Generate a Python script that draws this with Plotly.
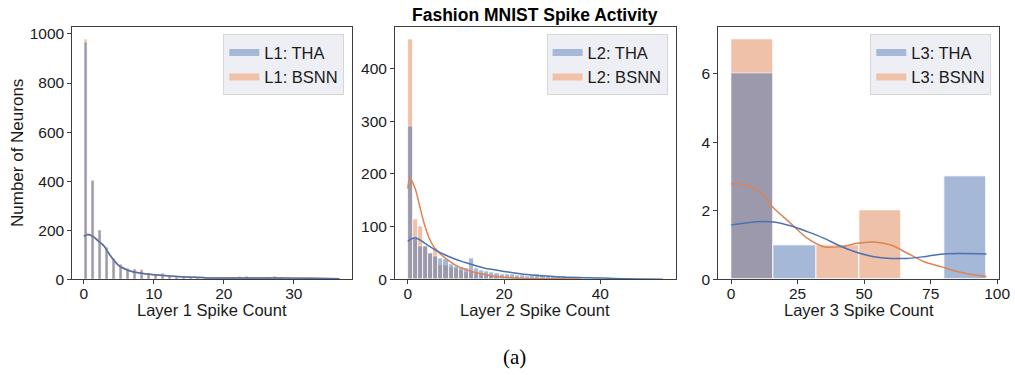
import plotly.graph_objects as go

# ---------------- data ----------------
# Layer 1 histogram (counts per spike-count bin, bins start at integer spike counts)
l1_bins = list(range(0, 37))
l1_tha = [966, 402, 198, 131, 80, 60, 41, 40, 36, 25, 20, 25, 12, 8, 8, 8, 10, 6, 8, 5,
          7, 8, 10, 12, 10, 7, 10, 13, 8, 10, 6, 4, 3, 4, 2, 3, 1]
l1_bsnn = [978, 400, 200, 128, 85, 58, 45, 40, 40, 22, 18, 20, 10, 7, 12, 8, 10, 6, 6, 5,
           6, 8, 14, 10, 8, 6, 8, 10, 10, 9, 5, 3, 2, 3, 1, 2, 1]
l1_kde_x = [0, 0.35, 0.7, 1.2, 1.8, 2.4, 2.9, 3.4, 3.9, 4.4, 4.9, 5.5, 6.2, 7, 8, 9, 10,
            12, 14, 17, 20, 24, 28, 32, 36.5]
l1_kde_tha = [175, 180, 181, 176, 163, 148, 135, 113, 92, 74, 58, 47, 38, 31, 26, 22, 19,
              14, 10, 7, 5, 5, 5, 4, 2]
l1_kde_bsnn = [177, 182, 184, 178, 164, 149, 135, 113, 92, 75, 59, 48, 39, 31, 26, 22, 19,
               14, 10, 7, 5, 5, 5, 4, 2]

# Layer 2 histogram
l2_bins = [i * 1.06 for i in range(38)]
l2_tha = [290, 77, 62, 62, 49, 44, 40, 37, 29, 24, 23, 20, 40, 21, 18, 15, 14, 12, 10, 9,
          9, 8, 7, 6, 8, 10, 7, 6, 6, 5, 5, 3, 2, 2, 1, 1, 1, 1]
l2_bsnn = [455, 114, 101, 62, 49, 59, 27, 27, 22, 20, 17, 14, 16, 12, 10, 9, 8, 6, 5, 4,
           3, 3, 2, 2, 1, 1, 1, 1, 0, 0, 0, 0, 0, 0, 0, 0, 0, 0]
l2_kde_x_tha = [0, 1.5, 3.6, 5.7, 7.8, 9.9, 11.9, 14, 16, 18, 20, 24, 31, 38, 45, 53]
l2_kde_tha = [72, 79, 68, 56, 46, 38, 32, 26, 21, 18, 15, 9.5, 5, 3, 1, 0.3]
l2_kde_x_bsnn = [0, 0.5, 1.5, 2.5, 3.6, 4.6, 5.7, 7.8, 9.9, 11.9, 14, 16, 18, 20, 22, 25, 30, 36]
l2_kde_bsnn = [172, 191, 173, 138, 100, 75, 58, 40, 27, 19, 13, 9.5, 6, 4, 2.5, 1.5, 1, 0.5]

# Layer 3 histogram
l3_bins = [0, 16, 32, 48, 64, 80]
l3_tha = [6, 1, 0, 0, 0, 3]
l3_bsnn = [7, 0, 1, 2, 0, 0]
l3_kde_x = [0, 3.4, 9.7, 16, 22.3, 28.6, 34.8, 41, 47.4, 53.7, 60, 66.3, 72.6, 78.9, 85.2, 96]
l3_kde_tha = [1.58, 1.62, 1.68, 1.67, 1.56, 1.39, 1.20, 0.97, 0.78, 0.66, 0.61, 0.61, 0.66,
              0.73, 0.75, 0.74]
l3_kde_bsnn = [2.78, 2.79, 2.61, 2.08, 1.64, 1.20, 0.95, 0.95, 1.05, 1.09, 1.00, 0.76, 0.51,
               0.37, 0.22, 0.08]

# ---------------- style ----------------
BLUE = "#4c72b0"
ORANGE = "#dd8452"
BLUE_PATCH = "#a5b8d7"
ORANGE_PATCH = "#eec1a8"
FONT = "Liberation Sans, Arial, sans-serif"
W, H = 1015, 375

panels = [
    dict(bins=l1_bins, width=0.46, tha=l1_tha, bsnn=l1_bsnn, kx_t=l1_kde_x, kt=l1_kde_tha,
         kx_b=l1_kde_x, kb=l1_kde_bsnn, lab="L1", edge=0.5),
    dict(bins=l2_bins, width=1.06, tha=l2_tha, bsnn=l2_bsnn, kx_t=l2_kde_x_tha, kt=l2_kde_tha,
         kx_b=l2_kde_x_bsnn, kb=l2_kde_bsnn, lab="L2", edge=0.8),
    dict(bins=l3_bins, width=16, tha=l3_tha, bsnn=l3_bsnn, kx_t=l3_kde_x, kt=l3_kde_tha,
         kx_b=l3_kde_x, kb=l3_kde_bsnn, lab="L3", edge=1.0),
]

fig = go.Figure()
for i, p in enumerate(panels):
    xa = "x" if i == 0 else f"x{i+1}"
    ya = "y" if i == 0 else f"y{i+1}"
    lg = "legend" if i == 0 else f"legend{i+1}"
    fig.add_trace(go.Bar(x=p["bins"], y=p["bsnn"], width=p["width"], offset=0,
                         marker=dict(color=ORANGE, line=dict(color="white", width=p["edge"])),
                         opacity=0.5, xaxis=xa, yaxis=ya, showlegend=False))
    fig.add_trace(go.Bar(x=p["bins"], y=p["tha"], width=p["width"], offset=0,
                         marker=dict(color=BLUE, line=dict(color="white", width=p["edge"])),
                         opacity=0.5, xaxis=xa, yaxis=ya, showlegend=False))
    fig.add_trace(go.Scatter(x=p["kx_b"], y=p["kb"], mode="lines",
                             line=dict(color=ORANGE, width=1.5, shape="spline"),
                             xaxis=xa, yaxis=ya, showlegend=False))
    fig.add_trace(go.Scatter(x=p["kx_t"], y=p["kt"], mode="lines",
                             line=dict(color=BLUE, width=1.5, shape="spline"),
                             xaxis=xa, yaxis=ya, showlegend=False))
    # legend entries
    fig.add_trace(go.Scatter(x=[None], y=[None], mode="lines", name=f"{p['lab']}: THA",
                             line=dict(color=BLUE_PATCH, width=7), xaxis=xa, yaxis=ya,
                             legend=lg))
    fig.add_trace(go.Scatter(x=[None], y=[None], mode="lines", name=f"{p['lab']}: BSNN",
                             line=dict(color=ORANGE_PATCH, width=7), xaxis=xa, yaxis=ya,
                             legend=lg))

# axes geometry (pixels)
xdom = [(72.3, 352.3), (395.0, 675.6), (718.3, 999.3)]
ytop, ybot = 27.3, 279.3
xranges = [[-1.65, 38.35], [-2.65, 55.65], [-4.8, 100.8]]
yranges = [[0, 1027], [0, 478], [0, 7.35]]
xticks = [[0, 10, 20, 30], [0, 20, 40], [0, 25, 50, 75, 100]]
yticks = [[0, 200, 400, 600, 800, 1000], [0, 100, 200, 300, 400], [0, 2, 4, 6]]

axis_common = dict(showgrid=False, zeroline=False, showline=True, mirror=True,
                   linecolor="#3d3d3d", linewidth=1, ticks="outside", ticklen=4,
                   tickcolor="#3d3d3d", tickwidth=1, automargin=False,
                   tickfont=dict(family=FONT, size=15.5, color="#1a1a1a"))
layout = {}
for i in range(3):
    xk = "xaxis" if i == 0 else f"xaxis{i+1}"
    yk = "yaxis" if i == 0 else f"yaxis{i+1}"
    xa = "x" if i == 0 else f"x{i+1}"
    ya = "y" if i == 0 else f"y{i+1}"
    layout[xk] = dict(domain=[xdom[i][0] / W, xdom[i][1] / W], range=xranges[i],
                      tickvals=xticks[i], anchor=ya, ticklabelstandoff=-4, **axis_common)
    layout[yk] = dict(domain=[1 - ybot / H, 1 - ytop / H], range=yranges[i],
                      tickvals=yticks[i], anchor=xa, **axis_common)
    lk = "legend" if i == 0 else f"legend{i+1}"
    layout[lk] = dict(x=(xdom[i][1] - 8) / W, xanchor="right", y=1 - (ytop + 7) / H,
                      yanchor="top", bgcolor="#eeeef5", bordercolor="#d6d6d6", borderwidth=1,
                      font=dict(family=FONT, size=16.5, color="#1a1a1a"), traceorder="normal")

fig.update_layout(**layout)
fig.update_layout(width=W, height=H, margin=dict(l=0, r=0, t=0, b=0, autoexpand=False),
                  paper_bgcolor="white", plot_bgcolor="white", barmode="overlay",
                  bargap=0, showlegend=True)

ann = [
    dict(text="<b>Fashion MNIST Spike Activity</b>", x=(xdom[1][0] + xdom[1][1]) / 2 / W,
         y=1 - 15 / H, font=dict(family=FONT, size=17.5, color="black")),
    dict(text="Layer 1 Spike Count", x=(xdom[0][0] + xdom[0][1]) / 2 / W, y=1 - 310 / H,
         font=dict(family=FONT, size=16.5, color="#1a1a1a")),
    dict(text="Layer 2 Spike Count", x=(xdom[1][0] + xdom[1][1]) / 2 / W, y=1 - 310 / H,
         font=dict(family=FONT, size=16.5, color="#1a1a1a")),
    dict(text="Layer 3 Spike Count", x=(xdom[2][0] + xdom[2][1]) / 2 / W, y=1 - 310 / H,
         font=dict(family=FONT, size=16.5, color="#1a1a1a")),
    dict(text="Number of Neurons", x=18 / W, y=1 - 153 / H, textangle=-90,
         font=dict(family=FONT, size=17, color="#1a1a1a")),
    dict(text="(a)", x=514 / W, y=1 - 357 / H,
         font=dict(family="Liberation Serif, Times New Roman, serif", size=21, color="black")),
]
for a in ann:
    a.update(xref="paper", yref="paper", showarrow=False, xanchor="center", yanchor="middle")
fig.update_layout(annotations=ann)

fig.write_html("out.html")
